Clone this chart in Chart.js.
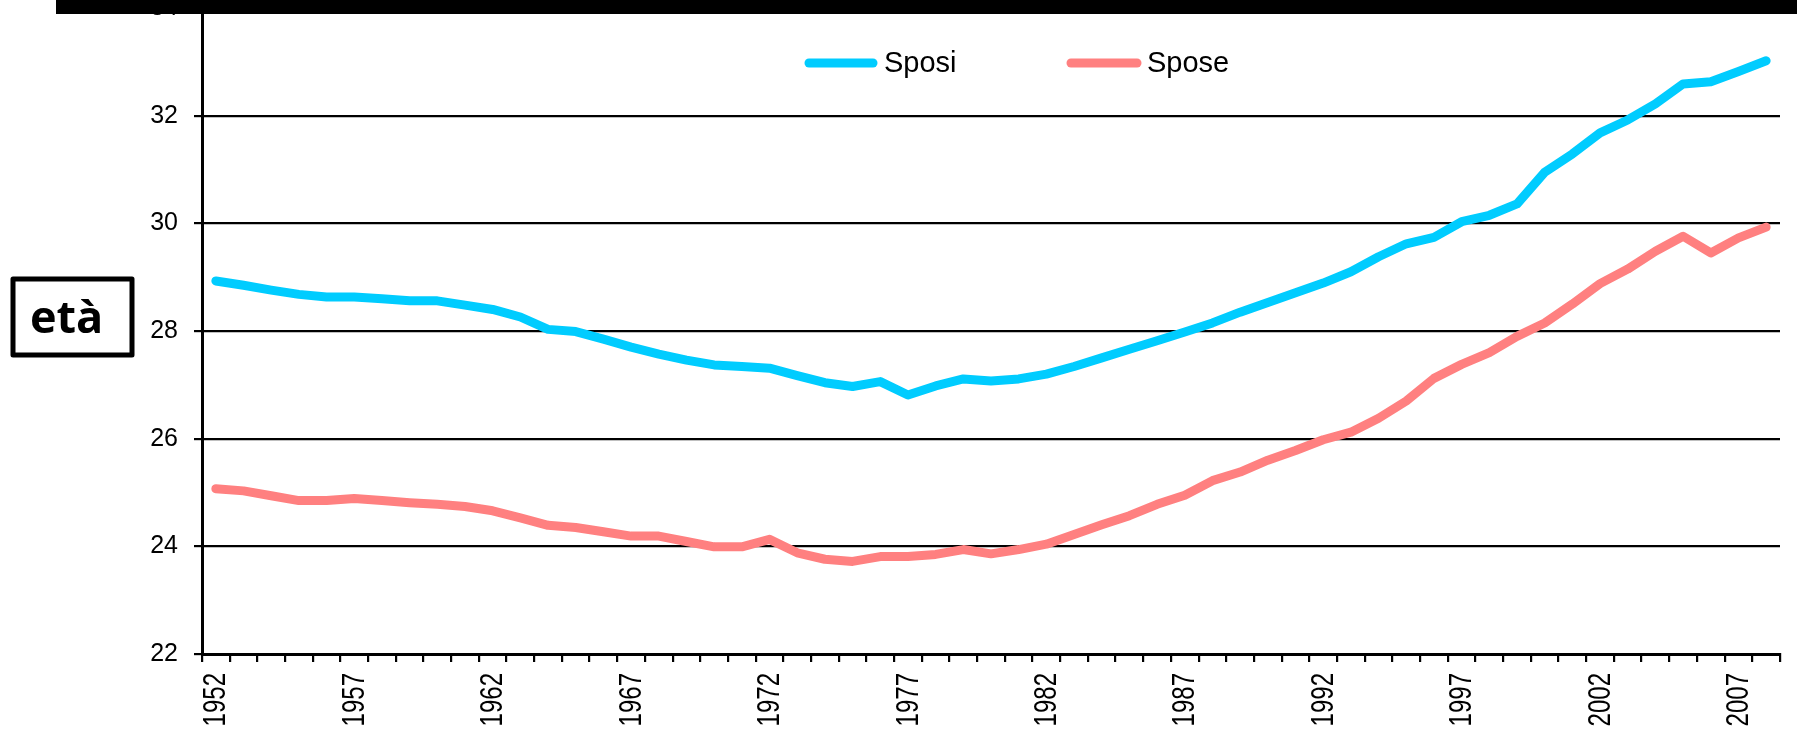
<!DOCTYPE html>
<html>
<head>
<meta charset="utf-8">
<script src="https://cdn.jsdelivr.net/npm/chart.js@4/dist/chart.umd.min.js"></script>
<style>
  html, body { margin: 0; padding: 0; background: #fff; }
  #wrap { width: 1797px; height: 735px; }
</style>
</head>
<body>
<div id="wrap"><canvas id="c" width="1797" height="735"></canvas></div>
<script>
const years = [];
for (let y = 1952; y <= 2008; y++) years.push(String(y));

const sposi = [
  28.93, 28.85, 28.76, 28.68, 28.63, 28.63, 28.60, 28.56, 28.56, 28.48,
  28.40, 28.26, 28.03, 27.99, 27.85, 27.70, 27.57, 27.46, 27.37, 27.34,
  27.31, 27.17, 27.04, 26.97, 27.06, 26.81, 26.98, 27.11, 27.07, 27.11,
  27.20, 27.34, 27.50, 27.66, 27.82, 27.98, 28.15, 28.35, 28.53, 28.71,
  28.89, 29.10, 29.38, 29.62, 29.74, 30.03, 30.15, 30.36, 30.95, 31.29,
  31.68, 31.92, 32.22, 32.59, 32.63, 32.82, 33.02
];

const spose = [
  25.07, 25.03, 24.94, 24.85, 24.85, 24.89, 24.85, 24.81, 24.78, 24.74,
  24.66, 24.53, 24.39, 24.35, 24.27, 24.19, 24.19, 24.09, 23.99, 23.99,
  24.13, 23.88, 23.76, 23.72, 23.81, 23.81, 23.85, 23.94, 23.86, 23.94,
  24.04, 24.22, 24.40, 24.57, 24.78, 24.95, 25.22, 25.38, 25.60, 25.78,
  25.98, 26.12, 26.38, 26.70, 27.12, 27.38, 27.60, 27.90, 28.15, 28.50,
  28.88, 29.15, 29.48, 29.76, 29.45, 29.73, 29.93
];

const seriesNames = ['Sposi', 'Spose'];
const seriesColors = ['#00CCFF', '#FF8080'];
const yMin = 22, yMax = 34, yStep = 2;
const labelEvery = 5;
const axisTitle = 'età';

const FONT = '"Liberation Sans", Arial, sans-serif';

// x tick labels: drawn from the category scale, glyphs stretched like the original
const xLabelPlugin = {
  id: 'xLabels',
  afterDatasetsDraw(chart) {
    const xs = chart.scales.x;
    const ctx = chart.ctx;
    ctx.save();
    ctx.fillStyle = '#000';
    ctx.font = '24px ' + FONT;
    ctx.textAlign = 'right';
    ctx.textBaseline = 'middle';
    const top = xs.top + 19;
    chart.data.labels.forEach((lab, i) => {
      if (i % labelEvery !== 0) return;
      const x = xs.getPixelForValue(i) + 1;
      ctx.save();
      ctx.translate(x, top);
      ctx.rotate(-Math.PI / 2);
      ctx.scale(1, 1.3);
      ctx.fillText(lab, 0, 0);
      ctx.restore();
    });
    ctx.restore();
  }
};

const overlayPlugin = {
  id: 'overlay',
  afterDraw(chart) {
    const ctx = chart.ctx;
    ctx.save();
    // legend inside plot
    const legendItems = [
      { x0: 809, x1: 873, tx: 884 },
      { x0: 1071, x1: 1137, tx: 1147 }
    ];
    const ly = 63;
    chart.data.datasets.forEach((ds, i) => {
      const it = legendItems[i];
      ctx.strokeStyle = ds.borderColor;
      ctx.lineWidth = 9;
      ctx.lineCap = 'round';
      ctx.beginPath();
      ctx.moveTo(it.x0, ly);
      ctx.lineTo(it.x1, ly);
      ctx.stroke();
      ctx.fillStyle = '#000';
      ctx.font = '29px ' + FONT;
      ctx.textAlign = 'left';
      ctx.textBaseline = 'middle';
      ctx.fillText(ds.label, it.tx, ly + 1);
    });
    // black band at top
    ctx.fillStyle = '#000';
    ctx.fillRect(56, 0, 1797 - 56, 14);
    // axis title box
    ctx.lineWidth = 5;
    ctx.strokeStyle = '#000';
    ctx.lineJoin = 'round';
    ctx.strokeRect(13, 279, 119, 76);
    ctx.font = 'bold 45px "Open Sans", "Noto Sans", sans-serif';
    ctx.textAlign = 'left';
    ctx.textBaseline = 'alphabetic';
    ctx.fillStyle = '#000';
    ctx.fillText(axisTitle, 30, 333);
    ctx.restore();
  }
};

new Chart(document.getElementById('c'), {
  type: 'line',
  data: {
    labels: years,
    datasets: [
      {
        label: seriesNames[0],
        data: sposi,
        borderColor: seriesColors[0],
        backgroundColor: seriesColors[0],
        borderWidth: 9,
        pointRadius: 0,
        tension: 0,
        borderJoinStyle: 'round',
        borderCapStyle: 'round',
        fill: false
      },
      {
        label: seriesNames[1],
        data: spose,
        borderColor: seriesColors[1],
        backgroundColor: seriesColors[1],
        borderWidth: 9,
        pointRadius: 0,
        tension: 0,
        borderJoinStyle: 'round',
        borderCapStyle: 'round',
        fill: false
      }
    ]
  },
  options: {
    responsive: false,
    animation: false,
    devicePixelRatio: 1,
    layout: { padding: { left: 0, right: 17, top: 8, bottom: 0 } },
    plugins: {
      legend: { display: false },
      tooltip: { enabled: false },
      title: { display: false }
    },
    scales: {
      x: {
        type: 'category',
        offset: true,
        grid: {
          offset: true,
          drawOnChartArea: false,
          drawTicks: true,
          tickLength: 8,
          color: '#000',
          lineWidth: 2.2
        },
        border: { display: true, color: '#000', width: 3 },
        ticks: {
          display: false,
          autoSkip: false
        },
        afterFit(scale) {
          scale.height = 735 - 654;
          scale.paddingLeft = 0;
          scale.paddingRight = 0;
        }
      },
      y: {
        min: yMin,
        max: yMax,
        grid: {
          color: '#000',
          lineWidth: 2.2,
          drawTicks: true,
          tickLength: 8,
          tickColor: '#000'
        },
        border: { display: true, color: '#000', width: 3 },
        ticks: {
          stepSize: yStep,
          padding: 16,
          color: '#000',
          font: { family: FONT, size: 25 }
        },
        afterFit(scale) {
          scale.width = 202;
          scale.paddingTop = 0;
          scale.paddingBottom = 0;
        }
      }
    }
  },
  plugins: [xLabelPlugin, overlayPlugin]
});
</script>
</body>
</html>
